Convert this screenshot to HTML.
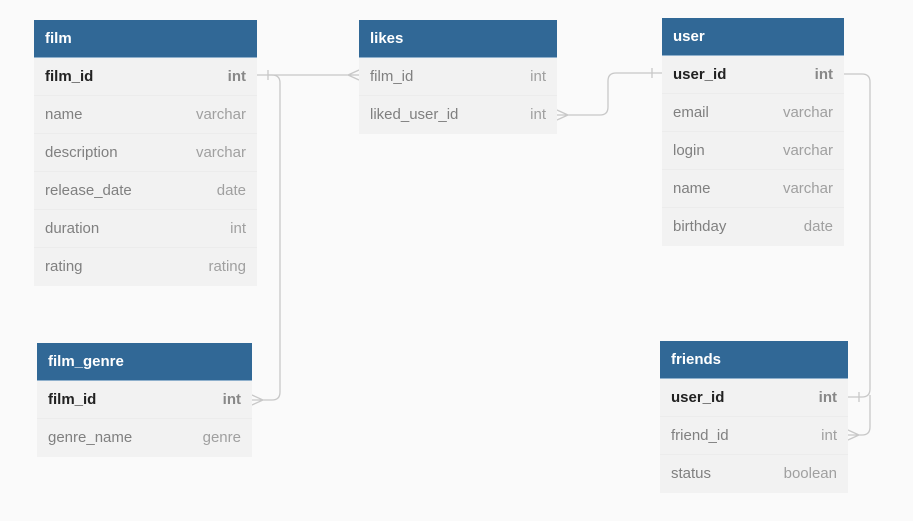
<!DOCTYPE html>
<html><head><style>
body{margin:0;width:913px;height:521px;background:#fafafa;font-family:"Liberation Sans",sans-serif;position:relative;overflow:hidden}
.t{position:absolute;background:#f2f2f2}
.h{box-sizing:border-box;background:#316896;color:#fff;font-weight:bold;font-size:15px;height:38px;line-height:37px;padding-left:11px;border-bottom:1px solid #8fb0cc}
.r{box-sizing:border-box;height:38px;line-height:37px;font-size:15px;color:#808080;padding:0 11px;display:flex;justify-content:space-between;border-bottom:1px solid #ececec}
.r span:last-child{color:#a0a0a0}
.r.k span{color:#222;font-weight:bold}.r.k span:last-child{color:#888}
svg{position:absolute;left:0;top:0}
</style></head><body>
<svg width="913" height="521" fill="none" stroke="#c8c8c8" stroke-width="1.3">
<path d="M257 75H359M268 70v10M359 70L348 75L359 80"/>
<path d="M268 75h4q8 0 8 8V392q0 8-8 8H252M252 395l11 5l-11 5"/>
<path d="M557 115H600q8 0 8-8V81q0-8 8-8H662M652 68v10M557 110l11 5l-11 5"/>
<path d="M844 74H862q8 0 8 8V389q0 8-8 8H848M859 392v10"/>
<path d="M870 395V427q0 8-8 8H848M848 430l11 5l-11 5"/>
</svg>
<div class="t" style="left:34px;top:20px;width:223px"><div class="h">film</div>
<div class="r k"><span>film_id</span><span>int</span></div>
<div class="r"><span>name</span><span>varchar</span></div>
<div class="r"><span>description</span><span>varchar</span></div>
<div class="r"><span>release_date</span><span>date</span></div>
<div class="r"><span>duration</span><span>int</span></div>
<div class="r" style="border:0"><span>rating</span><span>rating</span></div></div>
<div class="t" style="left:359px;top:20px;width:198px"><div class="h">likes</div>
<div class="r"><span>film_id</span><span>int</span></div>
<div class="r" style="border:0"><span>liked_user_id</span><span>int</span></div></div>
<div class="t" style="left:662px;top:18px;width:182px"><div class="h">user</div>
<div class="r k"><span>user_id</span><span>int</span></div>
<div class="r"><span>email</span><span>varchar</span></div>
<div class="r"><span>login</span><span>varchar</span></div>
<div class="r"><span>name</span><span>varchar</span></div>
<div class="r" style="border:0"><span>birthday</span><span>date</span></div></div>
<div class="t" style="left:37px;top:343px;width:215px"><div class="h">film_genre</div>
<div class="r k"><span>film_id</span><span>int</span></div>
<div class="r" style="border:0"><span>genre_name</span><span>genre</span></div></div>
<div class="t" style="left:660px;top:341px;width:188px"><div class="h">friends</div>
<div class="r k"><span>user_id</span><span>int</span></div>
<div class="r"><span>friend_id</span><span>int</span></div>
<div class="r" style="border:0"><span>status</span><span>boolean</span></div></div>
</body></html>
